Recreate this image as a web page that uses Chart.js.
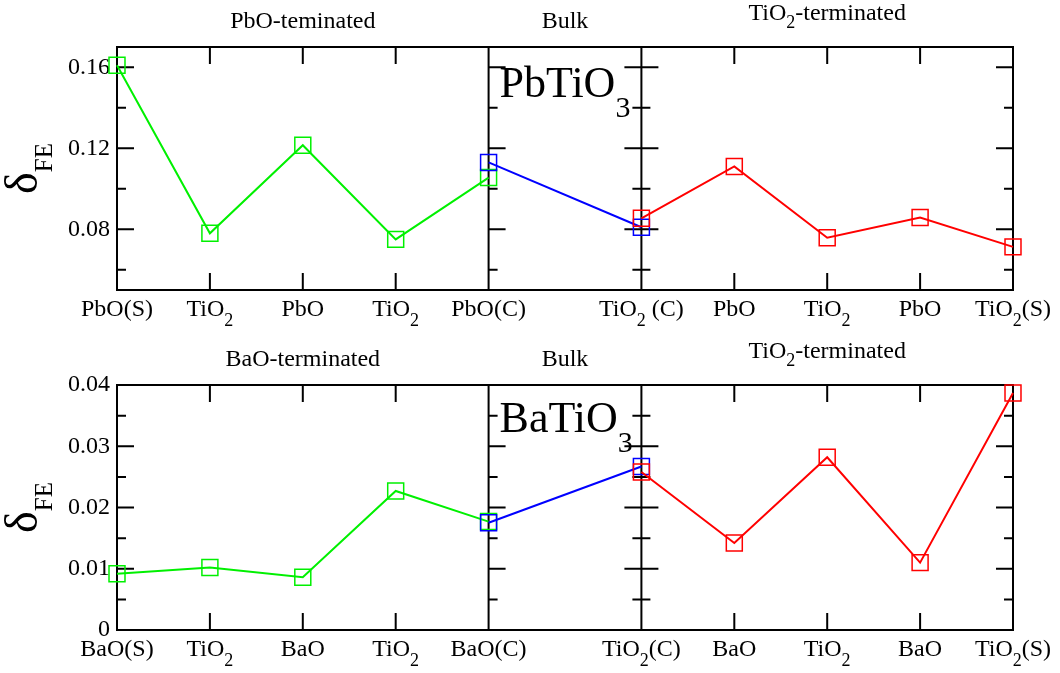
<!DOCTYPE html>
<html>
<head>
<meta charset="utf-8">
<script src="https://cdn.jsdelivr.net/npm/chart.js@4.4.0/dist/chart.umd.min.js"></script>
<style>
  html, body { margin: 0; padding: 0; background: #fff; }
  #wrap { position: relative; width: 1060px; height: 673px; }
  .panel { position: absolute; left: 0; width: 1060px; }
  #top-panel { top: 0; height: 336px; }
  #bottom-panel { top: 336px; height: 337px; }
</style>
</head>
<body>
<div id="wrap">
  <div class="panel" id="top-panel"><canvas id="pb-chart" width="1060" height="336"></canvas></div>
  <div class="panel" id="bottom-panel"><canvas id="ba-chart" width="1060" height="337"></canvas></div>
</div>
<script>
// PbTiO3 (top panel)
const pbLabels = ['PbO(S)', 'TiO_{2}', 'PbO', 'TiO_{2}', 'PbO(C)', 'TiO_{2} (C)', 'PbO', 'TiO_{2}', 'PbO', 'TiO_{2}(S)'];
const pbTitles = ['PbO-teminated', 'Bulk', 'TiO_{2}-terminated'];
const pbPbOTerm = [0.161, 0.078, 0.1215, 0.075, 0.1055];
const pbBulk = [0.113, 0.081];
const pbTiO2Term = [0.0854, 0.111, 0.0758, 0.0858, 0.0713];
const pbYTicks = [0.08, 0.12, 0.16];
const pbYTickLabels = ['0.08', '0.12', '0.16'];
const pbYMinor = [0.06, 0.10, 0.14];

// BaTiO3 (bottom panel)
const baLabels = ['BaO(S)', 'TiO_{2}', 'BaO', 'TiO_{2}', 'BaO(C)', 'TiO_{2}(C)', 'BaO', 'TiO_{2}', 'BaO', 'TiO_{2}(S)'];
const baTitles = ['BaO-terminated', 'Bulk', 'TiO_{2}-terminated'];
const baBaOTerm = [0.0092, 0.0102, 0.0086, 0.0227, 0.0177];
const baBulk = [0.0175, 0.0267];
const baTiO2Term = [0.0258, 0.0142, 0.0282, 0.0110, 0.0387];
const baYTicks = [0, 0.01, 0.02, 0.03, 0.04];
const baYTickLabels = ['0', '0.01', '0.02', '0.03', '0.04'];
const baYMinor = [0.005, 0.015, 0.025, 0.035];

const FONT = '"Liberation Serif", "Times New Roman", serif';
const BULK_SPAN = 1.645;   // width of the bulk section, in layer spacings
const X_MAX = 4 + BULK_SPAN + 4;

/** position of layer i on the x axis */
function posOf(i) {
    return i <= 4 ? i : (i - 5) + 4 + BULK_SPAN;
}

function parseRich(str) {
    const parts = [];
    const re = /_\{([^}]*)\}/g;
    let last = 0;
    let m;
    while ((m = re.exec(str))) {
        if (m.index > last) parts.push({ t: str.slice(last, m.index), sub: false });
        parts.push({ t: m[1], sub: true });
        last = re.lastIndex;
    }
    if (last < str.length) parts.push({ t: str.slice(last), sub: false });
    return parts;
}

function drawRich(ctx, str, x, y, size, subSize, drop, align) {
    const parts = parseRich(str);
    const fontOf = p => `${p.sub ? subSize : size}px ${FONT}`;
    let total = 0;
    parts.forEach(p => {
        ctx.font = fontOf(p);
        p.w = ctx.measureText(p.t).width;
        total += p.w;
    });
    let cx = align === 'center' ? x - total / 2 : align === 'right' ? x - total : x;
    ctx.textAlign = 'left';
    ctx.textBaseline = 'alphabetic';
    parts.forEach(p => {
        ctx.font = fontOf(p);
        ctx.fillText(p.t, cx, p.sub ? y + drop : y);
        cx += p.w;
    });
}

function makeDecor(panel) {
    return {
        id: 'decor',
        beforeDatasetsDraw(chart) {
            const { ctx, chartArea: a, scales } = chart;
            const xs = scales.x;
            const ys = scales.y;
            const div1 = xs.getPixelForValue(posOf(4));
            const div2 = xs.getPixelForValue(posOf(5));
            ctx.save();
            ctx.strokeStyle = '#000';
            ctx.lineWidth = 2;
            ctx.strokeRect(a.left, a.top, a.right - a.left, a.bottom - a.top);
            ctx.beginPath();
            ctx.moveTo(div1, a.top); ctx.lineTo(div1, a.bottom);
            ctx.moveTo(div2, a.top); ctx.lineTo(div2, a.bottom);
            // inward x ticks at the inner layers
            [1, 2, 3, 6, 7, 8].forEach(i => {
                const px = xs.getPixelForValue(posOf(i));
                ctx.moveTo(px, a.bottom); ctx.lineTo(px, a.bottom - 17);
                ctx.moveTo(px, a.top); ctx.lineTo(px, a.top + 17);
            });
            // y ticks on every frame edge
            const yTick = (v, len) => {
                const py = ys.getPixelForValue(v);
                ctx.moveTo(a.left, py); ctx.lineTo(a.left + len, py);
                ctx.moveTo(div1, py); ctx.lineTo(div1 + len, py);
                ctx.moveTo(div2 - len, py); ctx.lineTo(div2 + len, py);
                ctx.moveTo(a.right, py); ctx.lineTo(a.right - len, py);
            };
            panel.yTicks.forEach(v => yTick(v, 17));
            panel.yMinor.forEach(v => yTick(v, 9));
            ctx.stroke();
            ctx.restore();
        },
        afterDraw(chart) {
            const { ctx, chartArea: a, scales } = chart;
            const xs = scales.x;
            ctx.save();
            ctx.fillStyle = '#000';
            // layer labels
            panel.labels.forEach((lab, i) => {
                drawRich(ctx, lab, xs.getPixelForValue(posOf(i)), a.bottom + 26, 24, 18, 10, 'center');
            });
            // section titles
            const div1 = xs.getPixelForValue(posOf(4));
            const div2 = xs.getPixelForValue(posOf(5));
            drawRich(ctx, panel.titles[0], (a.left + div1) / 2, a.top - 19, 24, 18, 8, 'center');
            drawRich(ctx, panel.titles[1], (div1 + div2) / 2, a.top - 19, 24, 18, 8, 'center');
            drawRich(ctx, panel.titles[2], (div2 + a.right) / 2, a.top - 27, 24, 18, 8, 'center');
            // compound name
            drawRich(ctx, panel.name, div1 + 11, a.top + panel.nameDy, 44, 30, 20, 'left');
            // y axis title
            ctx.translate(37, (a.top + a.bottom) / 2);
            ctx.rotate(-Math.PI / 2);
            drawRich(ctx, 'δ_{FE}', 0, 0, 46, 25, 15, 'center');
            ctx.restore();
        }
    };
}

function series(values, offset, color) {
    return {
        data: values.map((v, i) => ({ x: posOf(offset + i), y: v })),
        borderColor: color,
        borderWidth: 2,
        pointStyle: 'rect',
        pointRadius: 11.3,
        pointBorderWidth: 1.5,
        pointBorderColor: color,
        pointBackgroundColor: 'rgba(0,0,0,0)',
        fill: false,
        tension: 0,
        clip: false
    };
}

function buildPanel(panel) {
    return new Chart(document.getElementById(panel.canvas), {
        type: 'line',
        data: {
            datasets: [
                series(panel.tio2Term, 5, '#ff0000'),
                series(panel.bulk, 4, '#0000ff'),
                series(panel.aoTerm, 0, '#00f000')
            ]
        },
        plugins: [makeDecor(panel)],
        options: {
            responsive: false,
            animation: false,
            layout: { padding: { left: 0, right: 47, top: panel.padTop, bottom: panel.padBottom } },
            plugins: { legend: { display: false }, tooltip: { enabled: false } },
            scales: {
                x: { type: 'linear', min: 0, max: X_MAX, display: false },
                y: {
                    type: 'linear',
                    min: panel.yMin,
                    max: panel.yMax,
                    afterFit: s => { s.width = 117; },
                    afterBuildTicks: s => { s.ticks = panel.yTicks.map(v => ({ value: v })); },
                    grid: { display: false, drawTicks: false },
                    border: { display: false },
                    ticks: {
                        color: '#000',
                        padding: 7,
                        font: { family: FONT, size: 24 },
                        callback: (v, i) => panel.yTickLabels[i]
                    }
                }
            }
        }
    });
}

buildPanel({
    canvas: 'pb-chart', name: 'PbTiO_{3}', nameDy: 50,
    labels: pbLabels, titles: pbTitles,
    aoTerm: pbPbOTerm, bulk: pbBulk, tio2Term: pbTiO2Term,
    yTicks: pbYTicks, yTickLabels: pbYTickLabels, yMinor: pbYMinor,
    yMin: 0.05, yMax: 0.17, padTop: 47, padBottom: 46
});

buildPanel({
    canvas: 'ba-chart', name: 'BaTiO_{3}', nameDy: 47,
    labels: baLabels, titles: baTitles,
    aoTerm: baBaOTerm, bulk: baBulk, tio2Term: baTiO2Term,
    yTicks: baYTicks, yTickLabels: baYTickLabels, yMinor: baYMinor,
    yMin: 0, yMax: 0.04, padTop: 49, padBottom: 43
});
</script>
</body>
</html>
